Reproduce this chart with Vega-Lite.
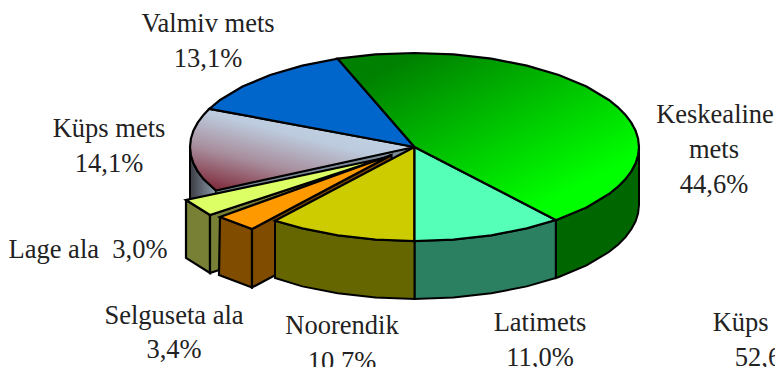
{"$schema":"https://vega.github.io/schema/vega-lite/v6.json","width":775,"height":367,"padding":0,"autosize":{"type":"none"},"background":"white","config":{"view":{"stroke":null}},
"datasets":{
"kuepsSide":[{"i":1,"x":190,"y":147},{"i":2,"x":190.9,"y":155.2},{"i":3,"x":193.4,"y":163.3},{"i":4,"x":197.7,"y":171.3},{"i":5,"x":203.5,"y":179.1},{"i":6,"x":216,"y":190.5},{"i":7,"x":216,"y":248.5},{"i":8,"x":203.5,"y":237.1},{"i":9,"x":197.7,"y":229.3},{"i":10,"x":193.4,"y":221.3},{"i":11,"x":190.9,"y":213.2},{"i":12,"x":190,"y":205},{"i":13,"x":190,"y":147}],
"kuepsWall":[{"i":1,"x":216,"y":190.5},{"i":2,"x":414.5,"y":147},{"i":3,"x":414.5,"y":205},{"i":4,"x":216,"y":248.5},{"i":5,"x":216,"y":190.5}],
"kuepsTop":[{"i":1,"x":414.5,"y":147},{"i":2,"x":216,"y":190.5},{"i":3,"x":203.5,"y":179.1},{"i":4,"x":197.7,"y":171.3},{"i":5,"x":193.4,"y":163.3},{"i":6,"x":190.9,"y":155.2},{"i":7,"x":190,"y":147},{"i":8,"x":190.9,"y":138.8},{"i":9,"x":193.4,"y":130.7},{"i":10,"x":197.7,"y":122.7},{"i":11,"x":203.5,"y":114.9},{"i":12,"x":209.4,"y":108.8},{"i":13,"x":414.5,"y":147}],
"valmivTop":[{"i":1,"x":414.5,"y":147},{"i":2,"x":209.4,"y":108.8},{"i":3,"x":220.1,"y":100},{"i":4,"x":242.5,"y":86.6},{"i":5,"x":270.2,"y":75},{"i":6,"x":302.3,"y":65.6},{"i":7,"x":337.7,"y":58.7},{"i":8,"x":414.5,"y":147}],
"keskSide":[{"i":1,"x":639,"y":147},{"i":2,"x":638.1,"y":155.2},{"i":3,"x":635.6,"y":163.3},{"i":4,"x":631.3,"y":171.3},{"i":5,"x":625.5,"y":179.1},{"i":6,"x":618,"y":186.7},{"i":7,"x":608.9,"y":194},{"i":8,"x":586.5,"y":207.4},{"i":9,"x":558.8,"y":219},{"i":10,"x":555.8,"y":220},{"i":11,"x":555.8,"y":278},{"i":12,"x":558.8,"y":277},{"i":13,"x":586.5,"y":265.4},{"i":14,"x":608.9,"y":252},{"i":15,"x":618,"y":244.7},{"i":16,"x":625.5,"y":237.1},{"i":17,"x":631.3,"y":229.3},{"i":18,"x":635.6,"y":221.3},{"i":19,"x":638.1,"y":213.2},{"i":20,"x":639,"y":205},{"i":21,"x":639,"y":147}],
"latSide":[{"i":1,"x":555.8,"y":220},{"i":2,"x":526.8,"y":228.4},{"i":3,"x":491.3,"y":235.3},{"i":4,"x":453.5,"y":239.6},{"i":5,"x":414.5,"y":241},{"i":6,"x":414.5,"y":299},{"i":7,"x":453.5,"y":297.6},{"i":8,"x":491.3,"y":293.3},{"i":9,"x":526.8,"y":286.4},{"i":10,"x":555.8,"y":278},{"i":11,"x":555.8,"y":220}],
"lageLeft":[{"i":1,"x":186,"y":200},{"i":2,"x":210,"y":215},{"i":3,"x":210,"y":273},{"i":4,"x":186,"y":258},{"i":5,"x":186,"y":200}],
"lageRight":[{"i":1,"x":210,"y":215},{"i":2,"x":384,"y":158},{"i":3,"x":384,"y":216},{"i":4,"x":210,"y":273},{"i":5,"x":210,"y":215}],
"lageTop":[{"i":1,"x":384,"y":158},{"i":2,"x":186,"y":200},{"i":3,"x":210,"y":215},{"i":4,"x":384,"y":158}],
"orangeLeft":[{"i":1,"x":220,"y":217},{"i":2,"x":252,"y":229},{"i":3,"x":252,"y":287.5},{"i":4,"x":219,"y":275},{"i":5,"x":220,"y":217}],
"orangeRight":[{"i":1,"x":252,"y":229},{"i":2,"x":391.5,"y":155},{"i":3,"x":391.5,"y":213},{"i":4,"x":252,"y":287.5},{"i":5,"x":252,"y":229}],
"orangeTop":[{"i":1,"x":391.5,"y":155},{"i":2,"x":220,"y":217},{"i":3,"x":252,"y":229},{"i":4,"x":391.5,"y":155}],
"noorSide":[{"i":1,"x":414.5,"y":241},{"i":2,"x":375.5,"y":239.6},{"i":3,"x":337.7,"y":235.3},{"i":4,"x":302.3,"y":228.4},{"i":5,"x":275,"y":220.7},{"i":6,"x":275,"y":278},{"i":7,"x":302.3,"y":286.4},{"i":8,"x":337.7,"y":293.3},{"i":9,"x":375.5,"y":297.6},{"i":10,"x":414.5,"y":299},{"i":11,"x":414.5,"y":241}],
"noorTop":[{"i":1,"x":414.5,"y":147},{"i":2,"x":414.5,"y":241},{"i":3,"x":375.5,"y":239.6},{"i":4,"x":337.7,"y":235.3},{"i":5,"x":302.3,"y":228.4},{"i":6,"x":275,"y":220.7},{"i":7,"x":414.5,"y":147}],
"latTop":[{"i":1,"x":414.5,"y":147},{"i":2,"x":555.8,"y":220},{"i":3,"x":526.8,"y":228.4},{"i":4,"x":491.3,"y":235.3},{"i":5,"x":453.5,"y":239.6},{"i":6,"x":414.5,"y":241},{"i":7,"x":414.5,"y":147}],
"keskTop":[{"i":1,"x":414.5,"y":147},{"i":2,"x":337.7,"y":58.7},{"i":3,"x":375.5,"y":54.4},{"i":4,"x":414.5,"y":53},{"i":5,"x":453.5,"y":54.4},{"i":6,"x":491.3,"y":58.7},{"i":7,"x":526.8,"y":65.6},{"i":8,"x":558.8,"y":75},{"i":9,"x":586.5,"y":86.6},{"i":10,"x":608.9,"y":100},{"i":11,"x":618,"y":107.3},{"i":12,"x":625.5,"y":114.9},{"i":13,"x":631.3,"y":122.7},{"i":14,"x":635.6,"y":130.7},{"i":15,"x":638.1,"y":138.8},{"i":16,"x":639,"y":147},{"i":17,"x":638.1,"y":155.2},{"i":18,"x":635.6,"y":163.3},{"i":19,"x":631.3,"y":171.3},{"i":20,"x":625.5,"y":179.1},{"i":21,"x":618,"y":186.7},{"i":22,"x":608.9,"y":194},{"i":23,"x":586.5,"y":207.4},{"i":24,"x":558.8,"y":219},{"i":25,"x":555.8,"y":220},{"i":26,"x":414.5,"y":147}],
"labels":[{"t":"Valmiv mets","x":208,"y":32},{"t":"13,1%","x":208,"y":67},{"t":"Küps mets","x":109,"y":137},{"t":"14,1%","x":109,"y":172},{"t":"Keskealine","x":715,"y":123},{"t":"mets","x":714,"y":158},{"t":"44,6%","x":714,"y":193},{"t":"Lage ala\u00a0\u00a03,0%","x":88,"y":258},{"t":"Selguseta ala","x":174,"y":324},{"t":"3,4%","x":174,"y":358},{"t":"Noorendik","x":342,"y":334},{"t":"10,7%","x":342,"y":370},{"t":"Latimets","x":540,"y":331},{"t":"11,0%","x":540,"y":366},{"t":"Küps mets","x":769,"y":331},{"t":"52,6%","x":769,"y":366}]
},
"encoding":{"x":{"field":"x","type":"quantitative","scale":{"domain":[0,775],"range":[0,775]},"axis":null},"y":{"field":"y","type":"quantitative","scale":{"domain":[0,367],"range":[0,367]},"axis":null},"order":{"field":"i","type":"quantitative"}},
"layer":[
{"data":{"name":"kuepsSide"},"mark":{"type":"line","stroke":"black","strokeWidth":2,"fill":{"gradient":"linear","x1":0,"y1":0,"x2":1,"y2":0,"stops":[{"offset":0,"color":"#3c3c44"},{"offset":1,"color":"#8a9aa8"}]}}},
{"data":{"name":"kuepsWall"},"mark":{"type":"line","stroke":"black","strokeWidth":1,"fill":"#7c8a98"}},
{"data":{"name":"kuepsTop"},"mark":{"type":"line","stroke":"black","strokeWidth":2.2,"fill":{"gradient":"linear","x1":0.05,"y1":1,"x2":0.75,"y2":0,"stops":[{"offset":0,"color":"#7a1f30"},{"offset":0.35,"color":"#a88d9c"},{"offset":0.65,"color":"#bccbdd"},{"offset":1,"color":"#c5d8ec"}]}}},
{"data":{"name":"valmivTop"},"mark":{"type":"line","stroke":"black","strokeWidth":2.2,"fill":"#0066cc"}},
{"data":{"name":"keskSide"},"mark":{"type":"line","stroke":"black","strokeWidth":2,"fill":"#006600"}},
{"data":{"name":"latSide"},"mark":{"type":"line","stroke":"black","strokeWidth":2,"fill":"#2a8060"}},
{"data":{"name":"lageLeft"},"mark":{"type":"line","stroke":"black","strokeWidth":2.2,"fill":"#788036"}},
{"data":{"name":"lageRight"},"mark":{"type":"line","stroke":"black","strokeWidth":2.2,"fill":"#788036"}},
{"data":{"name":"lageTop"},"mark":{"type":"line","stroke":"black","strokeWidth":2.2,"fill":"#ddff66"}},
{"data":{"name":"orangeLeft"},"mark":{"type":"line","stroke":"black","strokeWidth":2.2,"fill":"#804d00"}},
{"data":{"name":"orangeRight"},"mark":{"type":"line","stroke":"black","strokeWidth":2.2,"fill":"#804d00"}},
{"data":{"name":"orangeTop"},"mark":{"type":"line","stroke":"black","strokeWidth":2.2,"fill":"#ff9900"}},
{"data":{"name":"noorSide"},"mark":{"type":"line","stroke":"black","strokeWidth":2,"fill":"#666600"}},
{"data":{"name":"noorTop"},"mark":{"type":"line","stroke":"black","strokeWidth":2.2,"fill":"#cccc00"}},
{"data":{"name":"latTop"},"mark":{"type":"line","stroke":"black","strokeWidth":2.2,"fill":"#55ffb8"}},
{"data":{"name":"keskTop"},"mark":{"type":"line","stroke":"black","strokeWidth":2.2,"fill":{"gradient":"linear","x1":0.2,"y1":0.05,"x2":0.85,"y2":0.75,"stops":[{"offset":0,"color":"#008000"},{"offset":1,"color":"#00ff00"}]}}},
{"data":{"name":"labels"},"mark":{"type":"text","font":"Liberation Serif","fontSize":26.5,"color":"#222222","align":"center","baseline":"alphabetic"},"encoding":{"text":{"field":"t","type":"nominal"},"order":null}}
]}
